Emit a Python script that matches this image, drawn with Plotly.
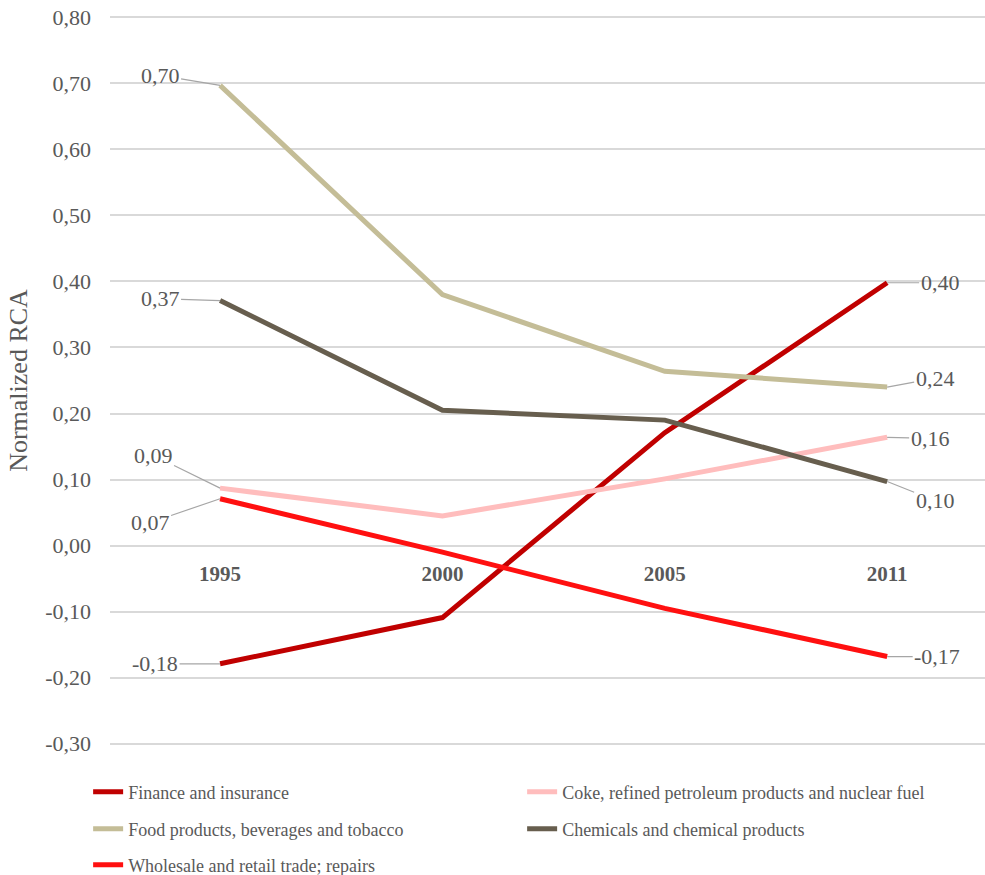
import plotly.graph_objects as go

# Normalized RCA by sector
years = ["1995", "2000", "2005", "2011"]
finance = [-0.179, -0.109, 0.171, 0.398]
coke = [0.087, 0.045, 0.101, 0.164]
food = [0.697, 0.380, 0.264, 0.240]
chemicals = [0.371, 0.205, 0.190, 0.097]
wholesale = [0.071, -0.010, -0.095, -0.168]

y_ticks = [-0.3, -0.2, -0.1, 0.0, 0.1, 0.2, 0.3, 0.4, 0.5, 0.6, 0.7, 0.8]

# (name, values, colour, legend row)
series = [
    ("Finance and insurance", finance, "#C00000", "legend"),
    ("Coke, refined petroleum products and nuclear fuel", coke, "#FFBDBD", "legend"),
    ("Food products, beverages and tobacco", food, "#C4BD97", "legend2"),
    ("Chemicals and chemical products", chemicals, "#675E4E", "legend2"),
    ("Wholesale and retail trade; repairs", wholesale, "#FF1010", "legend3"),
]

FONT = "Liberation Serif"
GREY = "#595959"

def fmt(v):
    return f"{v:.2f}".replace(".", ",")

xs = list(range(len(years)))
fig = go.Figure()
for name, vals, color, leg in series:
    fig.add_trace(go.Scatter(
        x=xs, y=vals, name=name, mode="lines",
        line=dict(color=color, width=5),
        legend=leg, hoverinfo="skip",
    ))

# value labels with leader lines (offsets in pixels: text relative to point)
labels = [
    (food, 0, -60, -10),
    (chemicals, 0, -60, -2),
    (coke, 0, -67, -33),
    (wholesale, 0, -70, 24),
    (finance, 0, -65, 0),
    (finance, 3, 53, 0),
    (food, 3, 48, -9),
    (coke, 3, 43, 1),
    (chemicals, 3, 48, 19),
    (wholesale, 3, 50, 0),
]
for vals, i, ax, ay in labels:
    fig.add_annotation(
        x=xs[i], y=vals[i], text=fmt(vals[i]),
        showarrow=True, arrowhead=0, arrowwidth=1.2, arrowcolor="#A6A6A6",
        ax=ax, ay=ay, standoff=0,
        font=dict(family=FONT, size=22, color=GREY),
    )

def legend_row(y):
    return dict(
        orientation="h", x=-0.025, xanchor="left", y=y, yanchor="middle",
        entrywidth=389, entrywidthmode="pixels",
        font=dict(family=FONT, size=18, color=GREY),
        itemwidth=30, bgcolor="rgba(0,0,0,0)",
    )

Y_RANGE = [-0.305, 0.805]

fig.update_layout(
    width=985, height=875,
    margin=dict(l=110, r=0, t=14, b=128, autoexpand=False),
    paper_bgcolor="white", plot_bgcolor="white",
    font=dict(family=FONT, color=GREY),
    showlegend=True,
    legend=legend_row(-0.0614),
    legend2=legend_row(-0.1119),
    legend3=legend_row(-0.161),
    xaxis=dict(
        range=[-0.495, 3.44], tickmode="array", tickvals=xs, ticktext=years,
        showgrid=False, zeroline=False, showline=False,
        anchor="free", position=(0 - Y_RANGE[0]) / (Y_RANGE[1] - Y_RANGE[0]),
        tickfont=dict(family=FONT, size=21, color=GREY, weight="bold"),
        ticklabelstandoff=13,
    ),
    yaxis=dict(
        range=Y_RANGE, tickmode="array", tickvals=y_ticks,
        ticktext=[fmt(v) for v in y_ticks],
        showgrid=True, gridcolor="#D9D9D9", gridwidth=2,
        zeroline=False, showline=False,
        tickfont=dict(family=FONT, size=22, color=GREY),
        ticklabelstandoff=18,
        title=dict(text="Normalized RCA", font=dict(family=FONT, size=26, color=GREY), standoff=10),
    ),
)

fig.write_html("out.html")
